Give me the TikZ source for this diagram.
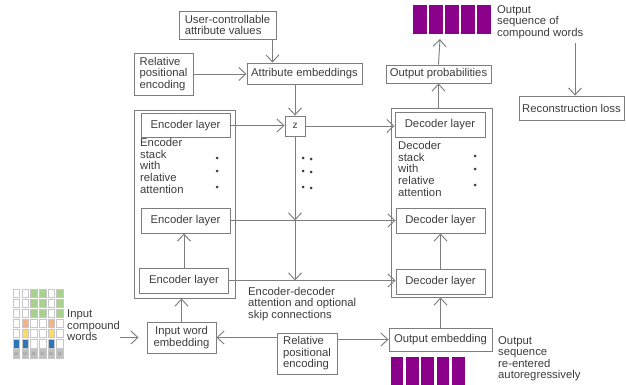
\documentclass[tikz,border=0pt]{standalone}
\usepackage{fontspec}
\setmainfont{Liberation Sans}
\usetikzlibrary{arrows.meta}
\definecolor{linegray}{RGB}{125,125,125}
\definecolor{txtgray}{RGB}{60,60,60}
\definecolor{seqpurple}{RGB}{139,0,139}
\definecolor{cellw}{RGB}{255,255,255}
\definecolor{cellg}{RGB}{169,209,142}
\definecolor{cello}{RGB}{244,177,131}
\definecolor{celly}{RGB}{255,217,102}
\definecolor{cellb}{RGB}{46,117,182}
\definecolor{cellm}{RGB}{191,191,191}

\begin{document}
\begin{tikzpicture}[x=1pt, y=-1pt, font=\fontsize{11.3}{11.5}\selectfont, text=txtgray,
    box/.style={draw=linegray, line width=0.9pt, inner sep=1pt},
    arr/.style={draw=linegray, line width=0.95pt, -{Straight Barb[length=7pt,width=13pt]}},
    lbl/.style={anchor=north west, align=left, inner sep=0pt}]
    \useasboundingbox (0,0) rectangle (626,385);

    % attribute branch
    \node[box, minimum width=97pt, minimum height=28pt, align=left] at (227.5,25) (uservals) {User-controllable\\attribute values};
    \node[box, minimum width=59pt, minimum height=42pt, align=left] at (163.5,74) (relpostop) {Relative\\positional\\encoding};
    \node[box, minimum width=115pt, minimum height=21pt] at (304.5,73.5) (attremb) {Attribute embeddings};
    \node[box, minimum width=20pt, minimum height=20pt, font=\fontsize{10}{10}\selectfont] at (295,126) (z) {z};

    % encoder stack
    \node[box, minimum width=101pt, minimum height=188pt] at (184.5,204) (encstack) {};
    \node[box, minimum width=89pt, minimum height=24pt] at (185.5,125.5) (encl1) {Encoder layer};
    \node[box, minimum width=89pt, minimum height=25pt] at (185.5,220.5) (encl2) {Encoder layer};
    \node[box, minimum width=89pt, minimum height=25pt] at (184,280.5) (encl3) {Encoder layer};
    \node[lbl, font=\fontsize{11.3}{11.8}\selectfont] at (140,138) (enctxt) {Encoder\\stack\\with\\relative\\attention};
    \node[box, minimum width=69pt, minimum height=31pt, align=center] at (181.5,337.5) (inemb) {Input word\\embedding};
    \node[box, minimum width=60pt, minimum height=41pt, align=left] at (307,353.5) (relposbot) {Relative\\positional\\encoding};

    % decoder stack
    \node[box, minimum width=101pt, minimum height=189pt] at (441.5,202.5) (decstack) {};
    \node[box, minimum width=90pt, minimum height=25pt] at (440,124.5) (decl1) {Decoder layer};
    \node[box, minimum width=89pt, minimum height=25pt] at (440.5,220.5) (decl2) {Decoder layer};
    \node[box, minimum width=89pt, minimum height=25pt] at (440.5,281.5) (decl3) {Decoder layer};
    \node[lbl, font=\fontsize{11.3}{11.8}\selectfont] at (398,141) (dectxt) {Decoder\\stack\\with\\relative\\attention};
    \node[box, minimum width=103pt, minimum height=23pt] at (440.5,339.5) (outemb) {Output embedding};
    \node[box, minimum width=105pt, minimum height=18pt] at (438.5,74) (outprob) {Output probabilities};
    \node[box, minimum width=105pt, minimum height=24pt] at (571.5,108) (recon) {Reconstruction loss};

    % free texts
    \node[lbl] at (497,5) (outseqtxt) {Output\\sequence of\\compound words};
    \node[lbl] at (498,336) (reenttxt) {Output\\sequence\\re-entered\\autoregressively};
    \node[lbl] at (248,287) (skiptxt) {Encoder-decoder\\attention and optional\\skip connections};
    \node[lbl] at (67,310) (incw) {Input\\compound\\words};

    % output sequences
    \foreach \i in {0,...,4}
        \fill[seqpurple] (413+16*\i,5) rectangle ++(13.5,29);
    \foreach \i in {0,...,4}
        \fill[seqpurple] (390.7+15.3*\i,357) rectangle ++(12.7,28);
    \coordinate (seqbottom) at (440,39);
    \coordinate (lossfrom) at (575,43);

    % input compound words grid
    \foreach \col/\cells in {0/{w,w,w,w,w,b}, 1/{w,w,w,o,y,b}, 2/{g,g,g,w,w,w}, 3/{g,g,g,w,w,w}, 4/{w,w,w,o,y,b}, 5/{g,g,g,w,w,w}} {
        \foreach \c [count=\r from 0] in \cells
            \filldraw[draw=black!22, fill=cell\c] (13+8.7*\col,289+10.1*\r) rectangle ++(6.6,8.2);
        \node[draw=black!22, fill=cellm, minimum width=6.6pt, minimum height=8.2pt, inner sep=0pt,
              font=\fontsize{4}{4}\selectfont, text=black!45] at (16.3+8.7*\col,353.7) (m\col) {M};
    }

    % dots
    \foreach \y in {158,171,187} {
        \fill[txtgray] (217,\y) circle (1.5pt);
        \fill[txtgray] (303,\y) circle (1.5pt);
        \fill[txtgray] (311,\y+1) circle (1.5pt);
        \fill[txtgray] (475,\y-2) circle (1.5pt);
    }

    % connectors
    \draw[arr] ([xshift=-4pt]uservals.south east) -- ([xshift=-4pt]uservals.south east |- attremb.north);
    \draw[arr] (relpostop.east) -- (relpostop.east -| attremb.west);
    \draw[arr] (attremb.south -| z.north) -- (z.north);
    \draw[arr] (encl1.east) -- (encl1.east -| z.west);
    \draw[arr] (z.east) -- (z.east -| decl1.west);
    \draw[arr] (z.south) -- (z.south |- encl2.east);
    \draw[arr] (z.south |- encl2.east) -- (z.south |- encl3.east);
    \draw[arr] (encl2.east) -- (encl2.east -| decl2.west);
    \draw[arr] (encl3.east) -- (encl3.east -| decl3.west);
    \draw[arr] (encl3.north) -- (encl3.north |- encl2.south);
    \draw[arr] (inemb.north) -- (inemb.north |- encstack.south);
    \draw[arr, shorten >=8pt] (incw.east |- inemb.west) -- (inemb.west);
    \draw[arr] (relposbot.west |- inemb.east) -- (inemb.east);
    \draw[arr] (relposbot.east |- outemb.west) -- (outemb.west);
    \draw[arr] (outemb.north) -- (outemb.north |- decstack.south);
    \draw[arr] (decl3.north) -- (decl3.north |- decl2.south);
    \draw[arr] (decstack.north -| outprob.south) -- (outprob.south);
    \draw[arr] (outprob.north) -- (seqbottom);
    \draw[arr] (lossfrom) -- (lossfrom |- recon.north);
\end{tikzpicture}
\end{document}
